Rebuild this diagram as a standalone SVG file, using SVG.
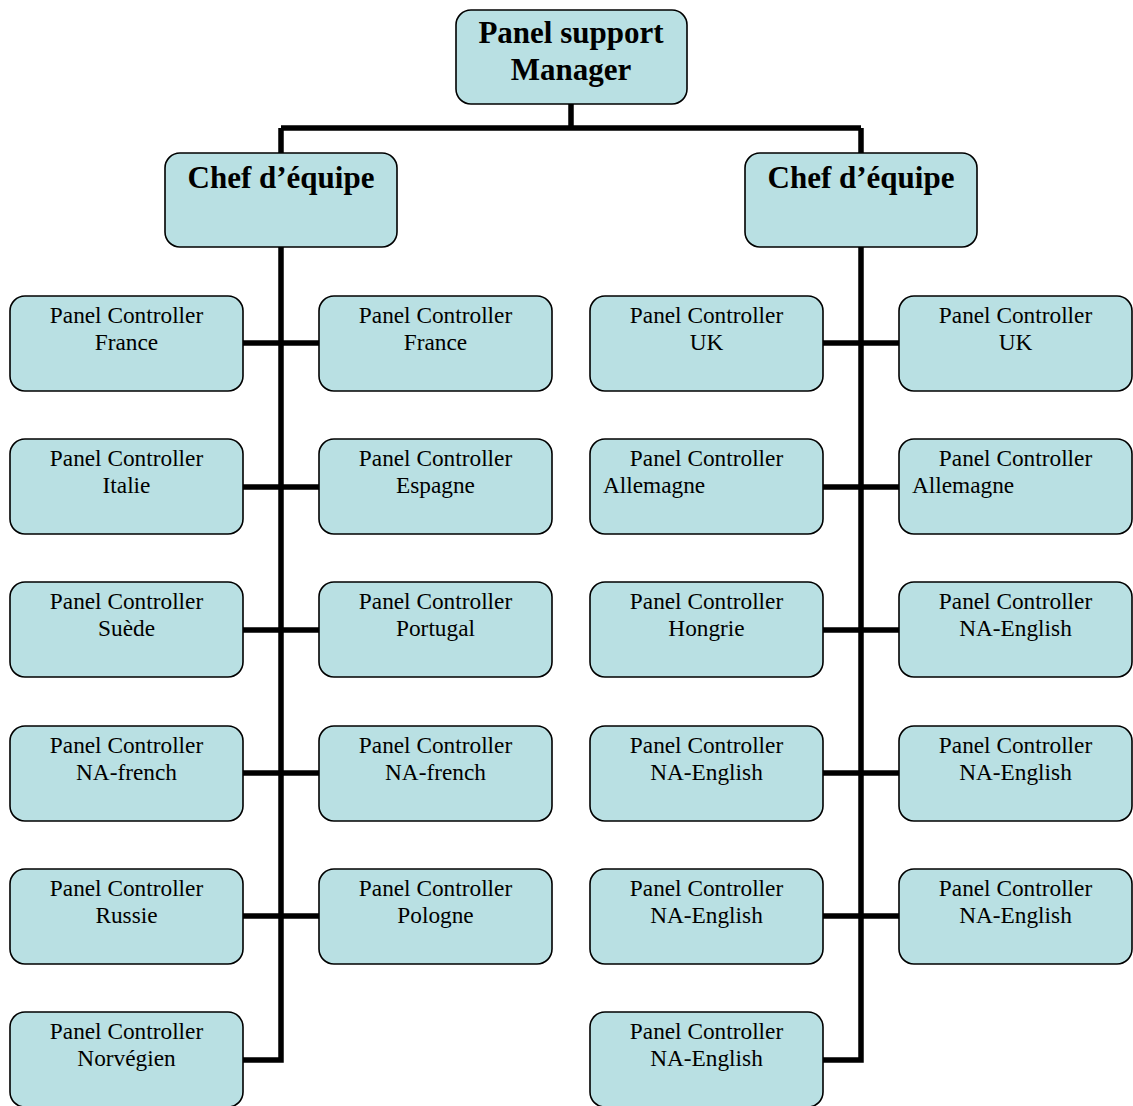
<svg xmlns="http://www.w3.org/2000/svg" width="1133" height="1106" viewBox="0 0 1133 1106">
  <style>
    .box { fill: #b9e0e3; stroke: #000; stroke-width: 1.6; }
    .wire { fill: none; stroke: #000; stroke-width: 5.5; stroke-linejoin: miter; stroke-linecap: butt; }
    .t { font-family: "Liberation Serif", "Times New Roman", serif; font-size: 23.3px; fill: #000; text-anchor: middle; }
    .ts { text-anchor: start; }
    .big { font-family: "Liberation Serif", "Times New Roman", serif; font-size: 31px; font-weight: bold; fill: #000; text-anchor: middle; }
  </style>
  <rect width="1133" height="1106" fill="#fff"/>

  <!-- connectors -->
  <g id="connectors" class="wire">
    <path d="M571,104 V128 M281,128 H861 M281,128 V153 M861,128 V153"/>
    <!-- left trunk -->
    <path d="M281,247 V1060 H243"/>
    <path d="M243,343 H319 M243,487 H319 M243,630 H319 M243,773 H319 M243,916 H319"/>
    <!-- right trunk -->
    <path d="M861,247 V1060 H823"/>
    <path d="M823,343 H899 M823,487 H899 M823,630 H899 M823,773 H899 M823,916 H899"/>
  </g>

  <g id="manager">
    <rect class="box" x="456" y="10" width="231" height="94" rx="15"/>
    <text class="big" x="571" y="43">Panel support</text>
    <text class="big" x="571" y="80">Manager</text>
  </g>

  <g id="chef-left">
    <rect class="box" x="165" y="153" width="232" height="94" rx="15"/>
    <text class="big" x="281" y="188">Chef d’équipe</text>
  </g>
  <g id="chef-right">
    <rect class="box" x="745" y="153" width="232" height="94" rx="15"/>
    <text class="big" x="861" y="188">Chef d’équipe</text>
  </g>

  <!-- column 1 -->
  <g id="pc-france-1">
    <rect class="box" x="10" y="296" width="233" height="95" rx="15"/>
    <text class="t" x="126.5" y="323">Panel Controller</text>
    <text class="t" x="126.5" y="350">France</text>
  </g>
  <g id="pc-italie">
    <rect class="box" x="10" y="439" width="233" height="95" rx="15"/>
    <text class="t" x="126.5" y="466">Panel Controller</text>
    <text class="t" x="126.5" y="493">Italie</text>
  </g>
  <g id="pc-suede">
    <rect class="box" x="10" y="582" width="233" height="95" rx="15"/>
    <text class="t" x="126.5" y="609">Panel Controller</text>
    <text class="t" x="126.5" y="636">Suède</text>
  </g>
  <g id="pc-na-french-1">
    <rect class="box" x="10" y="726" width="233" height="95" rx="15"/>
    <text class="t" x="126.5" y="753">Panel Controller</text>
    <text class="t" x="126.5" y="780">NA-french</text>
  </g>
  <g id="pc-russie">
    <rect class="box" x="10" y="869" width="233" height="95" rx="15"/>
    <text class="t" x="126.5" y="896">Panel Controller</text>
    <text class="t" x="126.5" y="923">Russie</text>
  </g>
  <g id="pc-norvegien">
    <rect class="box" x="10" y="1012" width="233" height="95" rx="15"/>
    <text class="t" x="126.5" y="1039">Panel Controller</text>
    <text class="t" x="126.5" y="1066">Norvégien</text>
  </g>

  <!-- column 2 -->
  <g id="pc-france-2">
    <rect class="box" x="319" y="296" width="233" height="95" rx="15"/>
    <text class="t" x="435.5" y="323">Panel Controller</text>
    <text class="t" x="435.5" y="350">France</text>
  </g>
  <g id="pc-espagne">
    <rect class="box" x="319" y="439" width="233" height="95" rx="15"/>
    <text class="t" x="435.5" y="466">Panel Controller</text>
    <text class="t" x="435.5" y="493">Espagne</text>
  </g>
  <g id="pc-portugal">
    <rect class="box" x="319" y="582" width="233" height="95" rx="15"/>
    <text class="t" x="435.5" y="609">Panel Controller</text>
    <text class="t" x="435.5" y="636">Portugal</text>
  </g>
  <g id="pc-na-french-2">
    <rect class="box" x="319" y="726" width="233" height="95" rx="15"/>
    <text class="t" x="435.5" y="753">Panel Controller</text>
    <text class="t" x="435.5" y="780">NA-french</text>
  </g>
  <g id="pc-pologne">
    <rect class="box" x="319" y="869" width="233" height="95" rx="15"/>
    <text class="t" x="435.5" y="896">Panel Controller</text>
    <text class="t" x="435.5" y="923">Pologne</text>
  </g>

  <!-- column 3 -->
  <g id="pc-uk-1">
    <rect class="box" x="590" y="296" width="233" height="95" rx="15"/>
    <text class="t" x="706.5" y="323">Panel Controller</text>
    <text class="t" x="706.5" y="350">UK</text>
  </g>
  <g id="pc-allemagne-1">
    <rect class="box" x="590" y="439" width="233" height="95" rx="15"/>
    <text class="t" x="706.5" y="466">Panel Controller</text>
    <text class="t ts" x="603" y="493">Allemagne</text>
  </g>
  <g id="pc-hongrie">
    <rect class="box" x="590" y="582" width="233" height="95" rx="15"/>
    <text class="t" x="706.5" y="609">Panel Controller</text>
    <text class="t" x="706.5" y="636">Hongrie</text>
  </g>
  <g id="pc-na-english-1">
    <rect class="box" x="590" y="726" width="233" height="95" rx="15"/>
    <text class="t" x="706.5" y="753">Panel Controller</text>
    <text class="t" x="706.5" y="780">NA-English</text>
  </g>
  <g id="pc-na-english-2">
    <rect class="box" x="590" y="869" width="233" height="95" rx="15"/>
    <text class="t" x="706.5" y="896">Panel Controller</text>
    <text class="t" x="706.5" y="923">NA-English</text>
  </g>
  <g id="pc-na-english-3">
    <rect class="box" x="590" y="1012" width="233" height="95" rx="15"/>
    <text class="t" x="706.5" y="1039">Panel Controller</text>
    <text class="t" x="706.5" y="1066">NA-English</text>
  </g>

  <!-- column 4 -->
  <g id="pc-uk-2">
    <rect class="box" x="899" y="296" width="233" height="95" rx="15"/>
    <text class="t" x="1015.5" y="323">Panel Controller</text>
    <text class="t" x="1015.5" y="350">UK</text>
  </g>
  <g id="pc-allemagne-2">
    <rect class="box" x="899" y="439" width="233" height="95" rx="15"/>
    <text class="t" x="1015.5" y="466">Panel Controller</text>
    <text class="t ts" x="912" y="493">Allemagne</text>
  </g>
  <g id="pc-na-english-4">
    <rect class="box" x="899" y="582" width="233" height="95" rx="15"/>
    <text class="t" x="1015.5" y="609">Panel Controller</text>
    <text class="t" x="1015.5" y="636">NA-English</text>
  </g>
  <g id="pc-na-english-5">
    <rect class="box" x="899" y="726" width="233" height="95" rx="15"/>
    <text class="t" x="1015.5" y="753">Panel Controller</text>
    <text class="t" x="1015.5" y="780">NA-English</text>
  </g>
  <g id="pc-na-english-6">
    <rect class="box" x="899" y="869" width="233" height="95" rx="15"/>
    <text class="t" x="1015.5" y="896">Panel Controller</text>
    <text class="t" x="1015.5" y="923">NA-English</text>
  </g>
</svg>
